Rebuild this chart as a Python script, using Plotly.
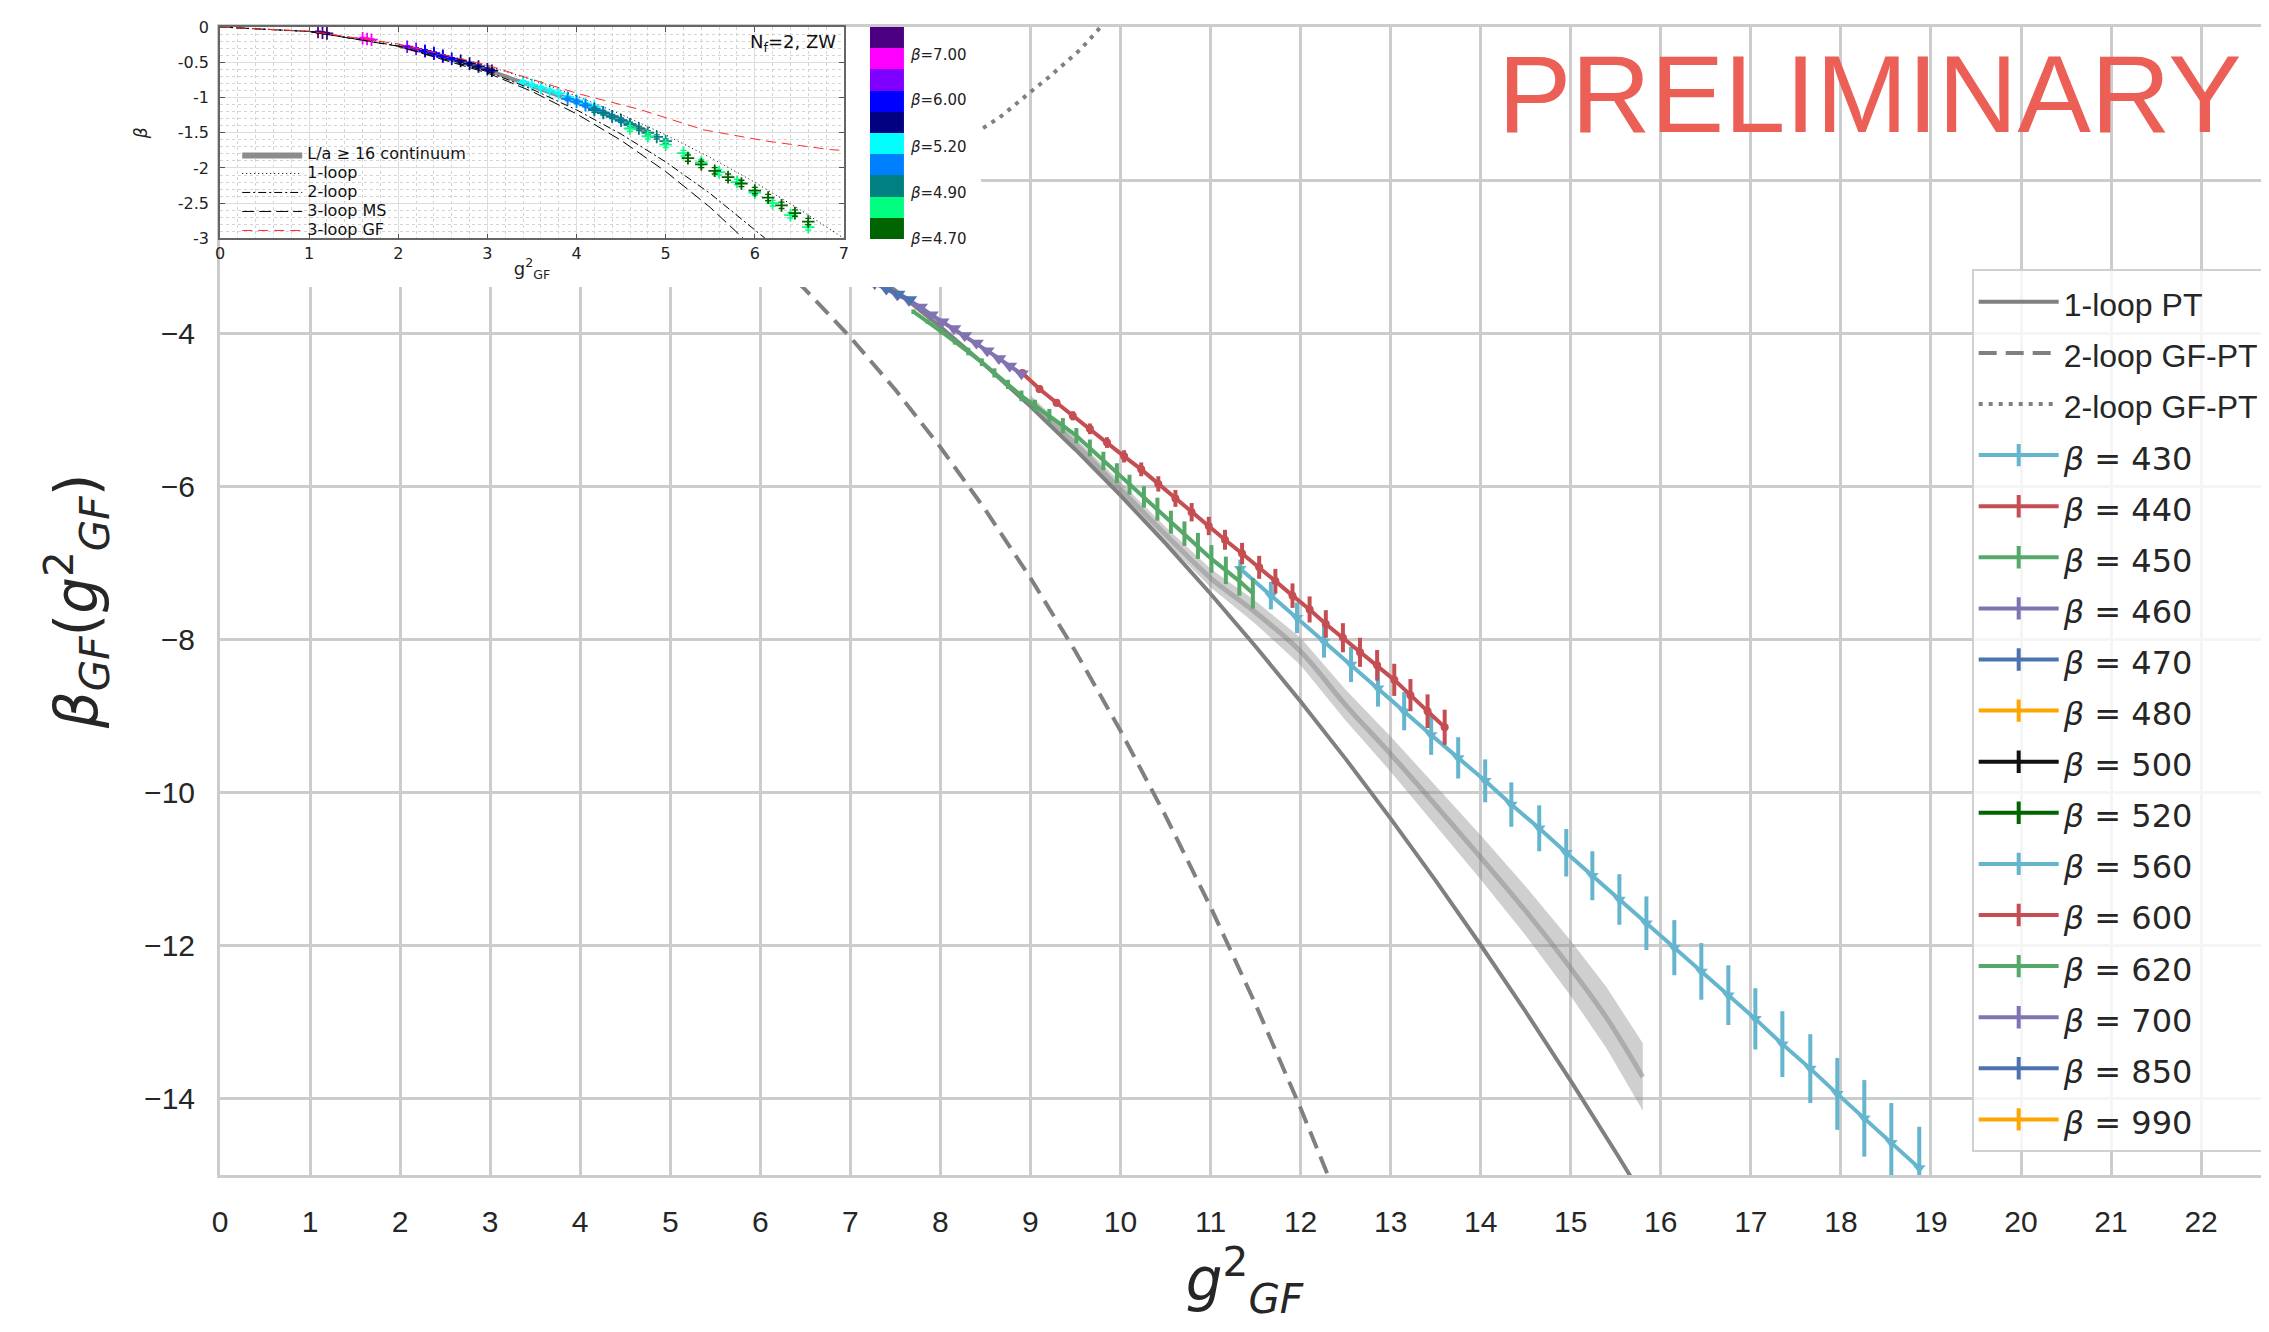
import plotly.graph_objects as go

# ---------------- main panel: perturbative curves ----------------
pt1_x = [0, 1, 2, 3, 4, 5, 6, 7, 7.5, 8, 8.5, 9, 9.5, 10, 10.5, 11, 11.5, 12, 12.5, 13, 13.5, 14, 14.5, 15, 15.5, 15.8]
pt1_y = [0, -0.061, -0.245, -0.551, -0.979, -1.530, -2.203, -2.999, -3.443, -3.917, -4.422, -4.957, -5.523,
         -6.120, -6.747, -7.405, -8.094, -8.813, -9.563, -10.343, -11.154, -11.995, -12.867, -13.770, -14.703, -15.278]
pt2_x = [0, 1, 2, 3, 4, 5, 6, 6.5, 7, 7.5, 8, 8.5, 9, 9.5, 10, 10.5, 11, 11.5, 12, 12.3, 12.5]
pt2_y = [0, -0.064, -0.270, -0.634, -1.176, -1.914, -2.867, -3.431, -4.054, -4.740, -5.491, -6.310, -7.199,
         -8.159, -9.195, -10.307, -11.498, -12.771, -14.127, -14.981, -15.569]
pt2b_x = [0, 2, 4, 6, 7, 7.5, 8.0, 8.43, 8.66, 9.0, 9.22, 9.55, 9.75, 10.0]
pt2b_y = [0, -0.25, -0.95, -1.9, -2.05, -1.95, -1.68, -1.35, -1.18, -0.85, -0.64, -0.30, -0.04, 0.35]

# continuum band
band_x = [9.0, 9.5, 10.0, 10.5, 11.0, 11.5, 12.0, 12.5, 13.0, 13.5, 14.0, 14.5, 15.0, 15.4, 15.8]
band_mid = [-4.88, -5.45, -6.04, -6.63, -7.2, -7.65, -8.16, -8.86, -9.5, -10.17, -10.85, -11.55, -12.3, -12.95, -13.72]
band_half = [0.07, 0.08, 0.09, 0.1, 0.12, 0.15, 0.18, 0.2, 0.23, 0.26, 0.29, 0.32, 0.36, 0.4, 0.44]

# ---------------- main panel: lattice data ----------------
x430 = [11.33, 11.67, 11.96, 12.26, 12.56, 12.86, 13.15, 13.45, 13.75, 14.05, 14.34, 14.65, 14.95, 15.24, 15.54,
        15.84, 16.15, 16.45, 16.75, 17.05, 17.35, 17.66, 17.96, 18.26, 18.56, 18.87]
y430 = [-7.08, -7.43, -7.72, -8.03, -8.33, -8.64, -8.94, -9.25, -9.55, -9.85, -10.16, -10.47, -10.79, -11.09, -11.40,
        -11.71, -12.03, -12.34, -12.65, -12.96, -13.29, -13.61, -13.94, -14.26, -14.58, -14.91]
e430 = [0.12, 0.18, 0.20, 0.21, 0.23, 0.24, 0.25, 0.26, 0.27, 0.28, 0.29, 0.30, 0.31, 0.32, 0.33, 0.35, 0.36, 0.37,
        0.39, 0.40, 0.43, 0.45, 0.47, 0.50, 0.52, 0.54]

x440 = [8.91, 9.10, 9.29, 9.47, 9.66, 9.85, 10.04, 10.23, 10.42, 10.61, 10.79, 10.98, 11.16, 11.35, 11.54, 11.72,
        11.91, 12.10, 12.28, 12.47, 12.66, 12.85, 13.04, 13.22, 13.41, 13.60]
y440 = [-4.52, -4.73, -4.91, -5.08, -5.25, -5.43, -5.61, -5.78, -5.97, -6.16, -6.34, -6.52, -6.70, -6.88, -7.06,
        -7.24, -7.43, -7.61, -7.80, -7.98, -8.17, -8.34, -8.53, -8.73, -8.94, -9.15]
e440 = [0.04, 0.05, 0.05, 0.06, 0.07, 0.07, 0.08, 0.09, 0.10, 0.11, 0.12, 0.12, 0.13, 0.14, 0.15, 0.16, 0.16, 0.17,
        0.18, 0.19, 0.19, 0.20, 0.21, 0.21, 0.22, 0.23]

x450 = [7.70, 7.86, 8.01, 8.16, 8.31, 8.46, 8.60, 8.75, 8.90, 9.05, 9.21, 9.36, 9.51, 9.66, 9.81, 9.96, 10.10,
        10.26, 10.41, 10.56, 10.71, 10.86, 11.01, 11.17, 11.32, 11.47]
y450 = [-3.72, -3.85, -3.98, -4.11, -4.24, -4.38, -4.52, -4.67, -4.82, -4.95, -5.08, -5.21, -5.34, -5.50, -5.67,
        -5.83, -5.98, -6.14, -6.30, -6.47, -6.62, -6.78, -6.95, -7.10, -7.24, -7.40]
e450 = [0.03, 0.03, 0.04, 0.04, 0.05, 0.05, 0.06, 0.06, 0.07, 0.08, 0.09, 0.10, 0.10, 0.11, 0.12, 0.13, 0.13, 0.14,
        0.15, 0.15, 0.16, 0.17, 0.18, 0.18, 0.19, 0.20]

x460 = [7.40, 7.52, 7.65, 7.78, 7.90, 8.02, 8.15, 8.27, 8.40, 8.52, 8.65, 8.77, 8.90]
y460 = [-3.42, -3.50, -3.57, -3.66, -3.76, -3.85, -3.94, -4.03, -4.13, -4.23, -4.33, -4.43, -4.53]
e460 = [0.02, 0.02, 0.02, 0.02, 0.02, 0.02, 0.02, 0.02, 0.03, 0.03, 0.03, 0.03, 0.03]

x470 = [7.00, 7.14, 7.27, 7.40, 7.53, 7.66]
y470 = [-3.22, -3.28, -3.35, -3.42, -3.49, -3.56]
e470 = [0.02, 0.02, 0.02, 0.02, 0.02, 0.02]

x480 = [6.3, 6.5, 6.7, 6.9, 7.1]
y480 = [-2.72, -2.85, -2.98, -3.10, -3.22]
x500 = [5.8, 6.0, 6.2, 6.4, 6.6]
y500 = [-2.35, -2.48, -2.60, -2.73, -2.86]
x520 = [5.3, 5.5, 5.7, 5.9, 6.1]
y520 = [-2.00, -2.12, -2.25, -2.38, -2.50]
x560 = [4.8, 5.0, 5.2, 5.4, 5.6]
y560 = [-1.70, -1.82, -1.94, -2.06, -2.18]
x600 = [4.2, 4.4, 4.6, 4.8, 5.0]
y600 = [-1.38, -1.48, -1.60, -1.72, -1.84]
x620 = [3.8, 4.0, 4.2, 4.4, 4.6]
y620 = [-1.16, -1.26, -1.36, -1.46, -1.58]
x700 = [3.0, 3.2, 3.4, 3.6, 3.8]
y700 = [-0.72, -0.80, -0.90, -1.00, -1.10]
x850 = [2.2, 2.4, 2.6, 2.8, 3.0]
y850 = [-0.38, -0.44, -0.50, -0.58, -0.66]
x990 = [1.6, 1.8, 2.0, 2.2, 2.4]
y990 = [-0.20, -0.24, -0.29, -0.34, -0.40]
e_small = [0.01, 0.01, 0.01, 0.01, 0.01]

beta_labels = ["430", "440", "450", "460", "470", "480", "500", "520", "560", "600", "620", "700", "850", "990"]
x_ticks = list(range(0, 23))
y_ticks = [-14, -12, -10, -8, -6, -4, -2, 0]
y_ticktext = ["\u221214", "\u221212", "\u221210", "\u22128", "\u22126", "\u22124", "", ""]

# ---------------- inset data ----------------
ins_1l_x = [0, 1, 2, 3, 3.5, 4, 4.5, 5, 5.5, 6, 6.5, 7]
ins_1l_y = [0, -0.061, -0.245, -0.551, -0.750, -0.979, -1.239, -1.530, -1.851, -2.203, -2.586, -2.999]
ins_2l_x = [0, 1, 2, 3, 3.5, 4, 4.5, 5, 5.5, 6, 6.2]
ins_2l_y = [0, -0.064, -0.269, -0.634, -0.882, -1.176, -1.519, -1.914, -2.363, -2.867, -3.085]
ins_3ms_x = [0, 1, 2, 3, 3.5, 4, 4.5, 5, 5.5, 5.88, 6.0]
ins_3ms_y = [0, -0.064, -0.273, -0.652, -0.914, -1.232, -1.608, -2.05, -2.56, -3.0, -3.15]
ins_3gf_x = [0, 1, 2, 3, 3.57, 4.03, 4.71, 5.43, 6.14, 6.85, 7.0]
ins_3gf_y = [0, -0.06, -0.24, -0.54, -0.77, -0.95, -1.17, -1.46, -1.62, -1.74, -1.75]
ins_band_x = [2.0, 2.5, 3.0, 3.5, 4.0, 4.5, 4.8]
ins_band_mid = [-0.27, -0.42, -0.61, -0.83, -1.06, -1.32, -1.49]
ins_band_half = [0.025, 0.028, 0.03, 0.032, 0.035, 0.038, 0.04]

ins_x = [
    [1.1, 1.15, 1.2],
    [1.6, 1.65, 1.7],
    [2.1, 2.2, 2.3, 2.4, 2.5],
    [2.3, 2.4, 2.5, 2.6],
    [2.7, 2.8, 2.9, 3.0, 3.05],
    [3.4, 3.5, 3.6, 3.7, 3.8, 3.9, 4.0, 4.1, 4.2],
    [3.9, 4.0, 4.1, 4.2, 4.3, 4.4, 4.5, 4.6],
    [4.2, 4.3, 4.4, 4.5, 4.6, 4.7, 4.8, 4.9, 5.0],
    [4.6, 4.8, 5.0, 5.2, 5.4, 5.6, 5.8, 6.0, 6.2, 6.4, 6.6],
    [5.25, 5.4, 5.55, 5.7, 5.85, 6.0, 6.15, 6.3, 6.45, 6.6],
]
ins_y = [
    [-0.07, -0.08, -0.09],
    [-0.16, -0.17, -0.18],
    [-0.28, -0.31, -0.34, -0.38, -0.42],
    [-0.34, -0.37, -0.41, -0.45],
    [-0.48, -0.52, -0.56, -0.60, -0.62],
    [-0.78, -0.82, -0.86, -0.90, -0.94, -0.99, -1.04, -1.09, -1.13],
    [-1.02, -1.06, -1.11, -1.16, -1.21, -1.27, -1.33, -1.39],
    [-1.18, -1.22, -1.27, -1.32, -1.38, -1.44, -1.50, -1.56, -1.62],
    [-1.44, -1.55, -1.67, -1.79, -1.92, -2.06, -2.20, -2.35, -2.50, -2.67, -2.84],
    [-1.86, -1.95, -2.04, -2.13, -2.22, -2.32, -2.42, -2.53, -2.64, -2.76],
]
ins_err = [0.01, 0.01, 0.015, 0.015, 0.02, 0.02, 0.025, 0.03, 0.04, 0.045]
ins_colors = ["#4b0082", "#ff00ff", "#8000ff", "#0000ff", "#000080",
              "#00ffff", "#0080ff", "#008080", "#00ff80", "#006400"]
cbar_ticks = [-0.5, 1.66, 3.85, 6.05, 8.18]
cbar_labels = ["4.70", "4.90", "5.20", "6.00", "7.00"]

# ---------------- styles ----------------
C_LB, C_R, C_G, C_P, C_B, C_O = "#64b5cd", "#c44e52", "#55a868", "#8172b2", "#4c72b0", "#ffa500"
beta_colors = [C_LB, C_R, C_G, C_P, C_B, C_O, "#111111", "#006400", C_LB, C_R, C_G, C_P, C_B, C_O]
TXT = "#262626"
INS_FAM = "DejaVu Sans"


def leg(t, fam=None):
    f = f"font-family:{fam};" if fam else ""
    return f'<span style="font-size:32px;{f}">{t}</span>'


def leg2(t):
    return f'<span style="font-size:16px;font-family:{INS_FAM}">{t}</span>'


fig = go.Figure()

# continuum band
up = [m + h for m, h in zip(band_mid, band_half)]
lo = [m - h for m, h in zip(band_mid, band_half)]
fig.add_trace(go.Scatter(x=band_x + band_x[::-1], y=up + lo[::-1], fill="toself",
                         fillcolor="rgba(140,140,140,0.42)", line=dict(width=0),
                         mode="lines", showlegend=False, hoverinfo="skip"))
fig.add_trace(go.Scatter(x=band_x, y=band_mid, mode="lines",
                         line=dict(color="rgba(128,128,128,0.45)", width=5, shape="spline"),
                         showlegend=False, hoverinfo="skip"))

# perturbative curves
fig.add_trace(go.Scatter(x=pt1_x, y=pt1_y, mode="lines", line=dict(color="#808080", width=4),
                         name=leg("1-loop PT")))
fig.add_trace(go.Scatter(x=pt2_x, y=pt2_y, mode="lines",
                         line=dict(color="#808080", width=4, dash="18px,9px"),
                         name=leg("2-loop GF-PT")))
fig.add_trace(go.Scatter(x=pt2b_x, y=pt2b_y, mode="lines",
                         line=dict(color="#808080", width=4, dash="4px,6px"),
                         name=leg("2-loop GF-PT")))

# data traces
main_series = [
    (x430, y430, e430, "triangle-down", 11),
    (x440, y440, e440, "circle", 8),
    (x450, y450, e450, "circle", 3),
    (x460, y460, e460, "triangle-down", 13),
    (x470, y470, e470, "triangle-down", 13),
    (x480, y480, e_small, "circle", 6),
    (x500, y500, e_small, "circle", 6),
    (x520, y520, e_small, "circle", 6),
    (x560, y560, e_small, "circle", 6),
    (x600, y600, e_small, "circle", 6),
    (x620, y620, e_small, "circle", 6),
    (x700, y700, e_small, "circle", 6),
    (x850, y850, e_small, "circle", 6),
    (x990, y990, e_small, "circle", 6),
]
for (xs, ys, es, sym, sz), col in zip(main_series, beta_colors):
    fig.add_trace(go.Scatter(x=xs, y=ys, mode="lines+markers",
                             line=dict(color=col, width=4),
                             marker=dict(symbol=sym, size=sz, color=col),
                             error_y=dict(type="data", array=es, thickness=4, width=0, color=col),
                             showlegend=False, hoverinfo="skip"))

# legend entries for data (line + errorbar glyph)
for lab, col in zip(beta_labels, beta_colors):
    fig.add_trace(go.Scatter(x=[None], y=[None], mode="lines+markers",
                             line=dict(color=col, width=4),
                             marker=dict(symbol="line-ns-open", size=16, color=col,
                                         line=dict(color=col, width=4)),
                             name=leg(f"<i>\u03b2</i> = {lab}", "DejaVu Sans")))

# cover subplot for inset area
fig.add_trace(go.Scatter(x=[None], y=[None], xaxis="x2", yaxis="y2", showlegend=False, hoverinfo="skip"))

# ---------------- inset ----------------
iu = [m + h for m, h in zip(ins_band_mid, ins_band_half)]
il = [m - h for m, h in zip(ins_band_mid, ins_band_half)]
fig.add_trace(go.Scatter(x=ins_band_x + ins_band_x[::-1], y=iu + il[::-1], fill="toself",
                         fillcolor="rgba(128,128,128,0.9)", line=dict(width=0, color="#808080"),
                         mode="lines", xaxis="x3", yaxis="y3", legend="legend2",
                         name=leg2("L/a \u2265 16 continuum"), hoverinfo="skip"))
for xs, ys, er, col in zip(ins_x, ins_y, ins_err, ins_colors):
    fig.add_trace(go.Scatter(x=xs, y=ys, mode="markers", xaxis="x3", yaxis="y3",
                             marker=dict(symbol="cross-thin-open", size=9, color=col,
                                         line=dict(color=col, width=1.8)),
                             error_y=dict(type="data", array=[er] * len(xs), thickness=1.4,
                                          width=3, color=col),
                             showlegend=False, hoverinfo="skip"))
fig.add_trace(go.Scatter(x=ins_1l_x, y=ins_1l_y, mode="lines", xaxis="x3", yaxis="y3",
                         line=dict(color="#000000", width=1, dash="1px,3px"),
                         legend="legend2", name=leg2("1-loop")))
fig.add_trace(go.Scatter(x=ins_2l_x, y=ins_2l_y, mode="lines", xaxis="x3", yaxis="y3",
                         line=dict(color="#000000", width=1, dash="8px,3px,2px,3px"),
                         legend="legend2", name=leg2("2-loop")))
fig.add_trace(go.Scatter(x=ins_3ms_x, y=ins_3ms_y, mode="lines", xaxis="x3", yaxis="y3",
                         line=dict(color="#000000", width=1, dash="12px,5px"),
                         legend="legend2", name=leg2("3-loop MS")))
fig.add_trace(go.Scatter(x=ins_3gf_x, y=ins_3gf_y, mode="lines", xaxis="x3", yaxis="y3",
                         line=dict(color="#ff2a2a", width=1, dash="10px,6px"),
                         legend="legend2", name=leg2("3-loop GF")))

# colour bar of the inset
cs = []
cb_cols = ins_colors[::-1]
for k, c in enumerate(cb_cols):
    cs.append([k / 10, c])
    cs.append([(k + 1) / 10, c])
fig.add_trace(go.Heatmap(z=[[k] for k in range(10)], x=[0], y=list(range(10)),
                         colorscale=cs, zmin=-0.5, zmax=9.5, showscale=False,
                         xaxis="x4", yaxis="y4", hoverinfo="skip"))

MAIN_FONT = dict(family="Liberation Sans, Arial", size=30, color=TXT)
INS_FONT = dict(family=INS_FAM, size=16, color="#222222")
fig.update_layout(
    width=2269, height=1332,
    margin=dict(l=212, r=8, t=19, b=165, autoexpand=False),
    plot_bgcolor="white", paper_bgcolor="white",
    xaxis=dict(range=[0, 22.754], tickvals=x_ticks, showgrid=True, gridcolor="#cccccc", gridwidth=2.5,
               showline=True, linecolor="#cccccc", linewidth=3, mirror=True, zeroline=False,
               ticks="", ticklabelstandoff=18, automargin=False, ticklabelposition="outside",
               tickfont=MAIN_FONT,
               title=dict(text="<i>g</i><sup>2</sup><sub><i>GF</i></sub>",
                          font=dict(family="DejaVu Sans", size=58, color=TXT), standoff=17)),
    yaxis=dict(range=[-15, 0], tickvals=y_ticks, ticktext=y_ticktext, showgrid=True,
               gridcolor="#cccccc", gridwidth=2.5, showline=True, linecolor="#cccccc", linewidth=3,
               mirror=True, zeroline=False, ticks="", ticklabelstandoff=16, automargin=False,
               tickfont=MAIN_FONT,
               title=dict(text="<i>\u03b2</i><sub><i>GF</i></sub>(<i>g</i><sup>2</sup><sub><i>GF</i></sub>)",
                          font=dict(family="DejaVu Sans", size=58, color=TXT), standoff=28)),
    xaxis2=dict(domain=[0, 0.3714], anchor="y2", visible=False, range=[0, 1], fixedrange=True),
    yaxis2=dict(domain=[0.7735, 1.0], anchor="x2", visible=False, range=[0, 1], fixedrange=True),
    xaxis3=dict(domain=[0, 0.3045], anchor="y3", range=[0, 7], tickvals=list(range(8)),
                ticks="inside", ticklen=5, tickcolor="#555555", showline=True, linecolor="#666666",
                linewidth=1.5, mirror="ticks", showgrid=True, gridcolor="#dddddd", gridwidth=1,
                zeroline=False, minor=dict(dtick=0.2, showgrid=True, gridcolor="#d4d4d4",
                                           griddash="dot", ticks=""),
                tickfont=INS_FONT, automargin=False,
                title=dict(text="g<sup>2</sup><sub>GF</sub>",
                           font=dict(family=INS_FAM, size=18, color="#222222"), standoff=0)),
    yaxis3=dict(domain=[0.8158, 1.0], anchor="x3", range=[-3, 0],
                tickvals=[0, -0.5, -1, -1.5, -2, -2.5, -3],
                ticktext=["0", "-0.5", "-1", "-1.5", "-2", "-2.5", "-3"],
                ticks="inside", ticklen=5, tickcolor="#555555", showline=True, linecolor="#666666",
                linewidth=1.5, mirror="ticks", showgrid=True, gridcolor="#dddddd", gridwidth=1,
                zeroline=False, minor=dict(dtick=0.1, showgrid=True, gridcolor="#d4d4d4",
                                           griddash="dot", ticks=""),
                tickfont=INS_FONT, ticklabelstandoff=6, automargin=False,
                title=dict(text="<i>\u03b2</i>",
                           font=dict(family=INS_FAM, size=17, color="#222222"), standoff=26)),
    xaxis4=dict(domain=[0.3172, 0.3338], anchor="y4", visible=False, range=[-0.5, 0.5], fixedrange=True),
    yaxis4=dict(domain=[0.8153, 1.0], anchor="x4", side="right", range=[-0.5, 9.5],
                tickvals=cbar_ticks, ticktext=[f"<i>\u03b2</i>={v}" for v in cbar_labels],
                showgrid=False, zeroline=False, ticks="", showline=False, ticklabelstandoff=6,
                automargin=False,
                tickfont=dict(family=INS_FAM, size=15, color="#222222")),
    legend=dict(x=0.8549, y=0.789, xanchor="left", yanchor="top", bgcolor="rgba(255,255,255,0.8)",
                bordercolor="#d0d0d0", borderwidth=2, itemwidth=80,
                font=dict(family="Liberation Sans, Arial", size=37, color=TXT)),
    legend2=dict(x=0.0084, y=0.9016, xanchor="left", yanchor="top", bgcolor="rgba(0,0,0,0)",
                 borderwidth=0, itemwidth=60,
                 font=dict(family=INS_FAM, size=11, color="#111111")),
    annotations=[
        dict(text="PRELIMINARY", xref="paper", yref="paper", x=0.8053, y=0.9417,
             xanchor="center", yanchor="middle", showarrow=False,
             font=dict(family="Liberation Sans, Arial", size=110, color="#eb5f57")),
        dict(text="N<sub>f</sub>=2, ZW", xref="x3", yref="y3", x=6.93, y=-0.22,
             xanchor="right", yanchor="middle", showarrow=False,
             font=dict(family=INS_FAM, size=18, color="#111111")),
    ],
)

fig.write_html("out.html")
